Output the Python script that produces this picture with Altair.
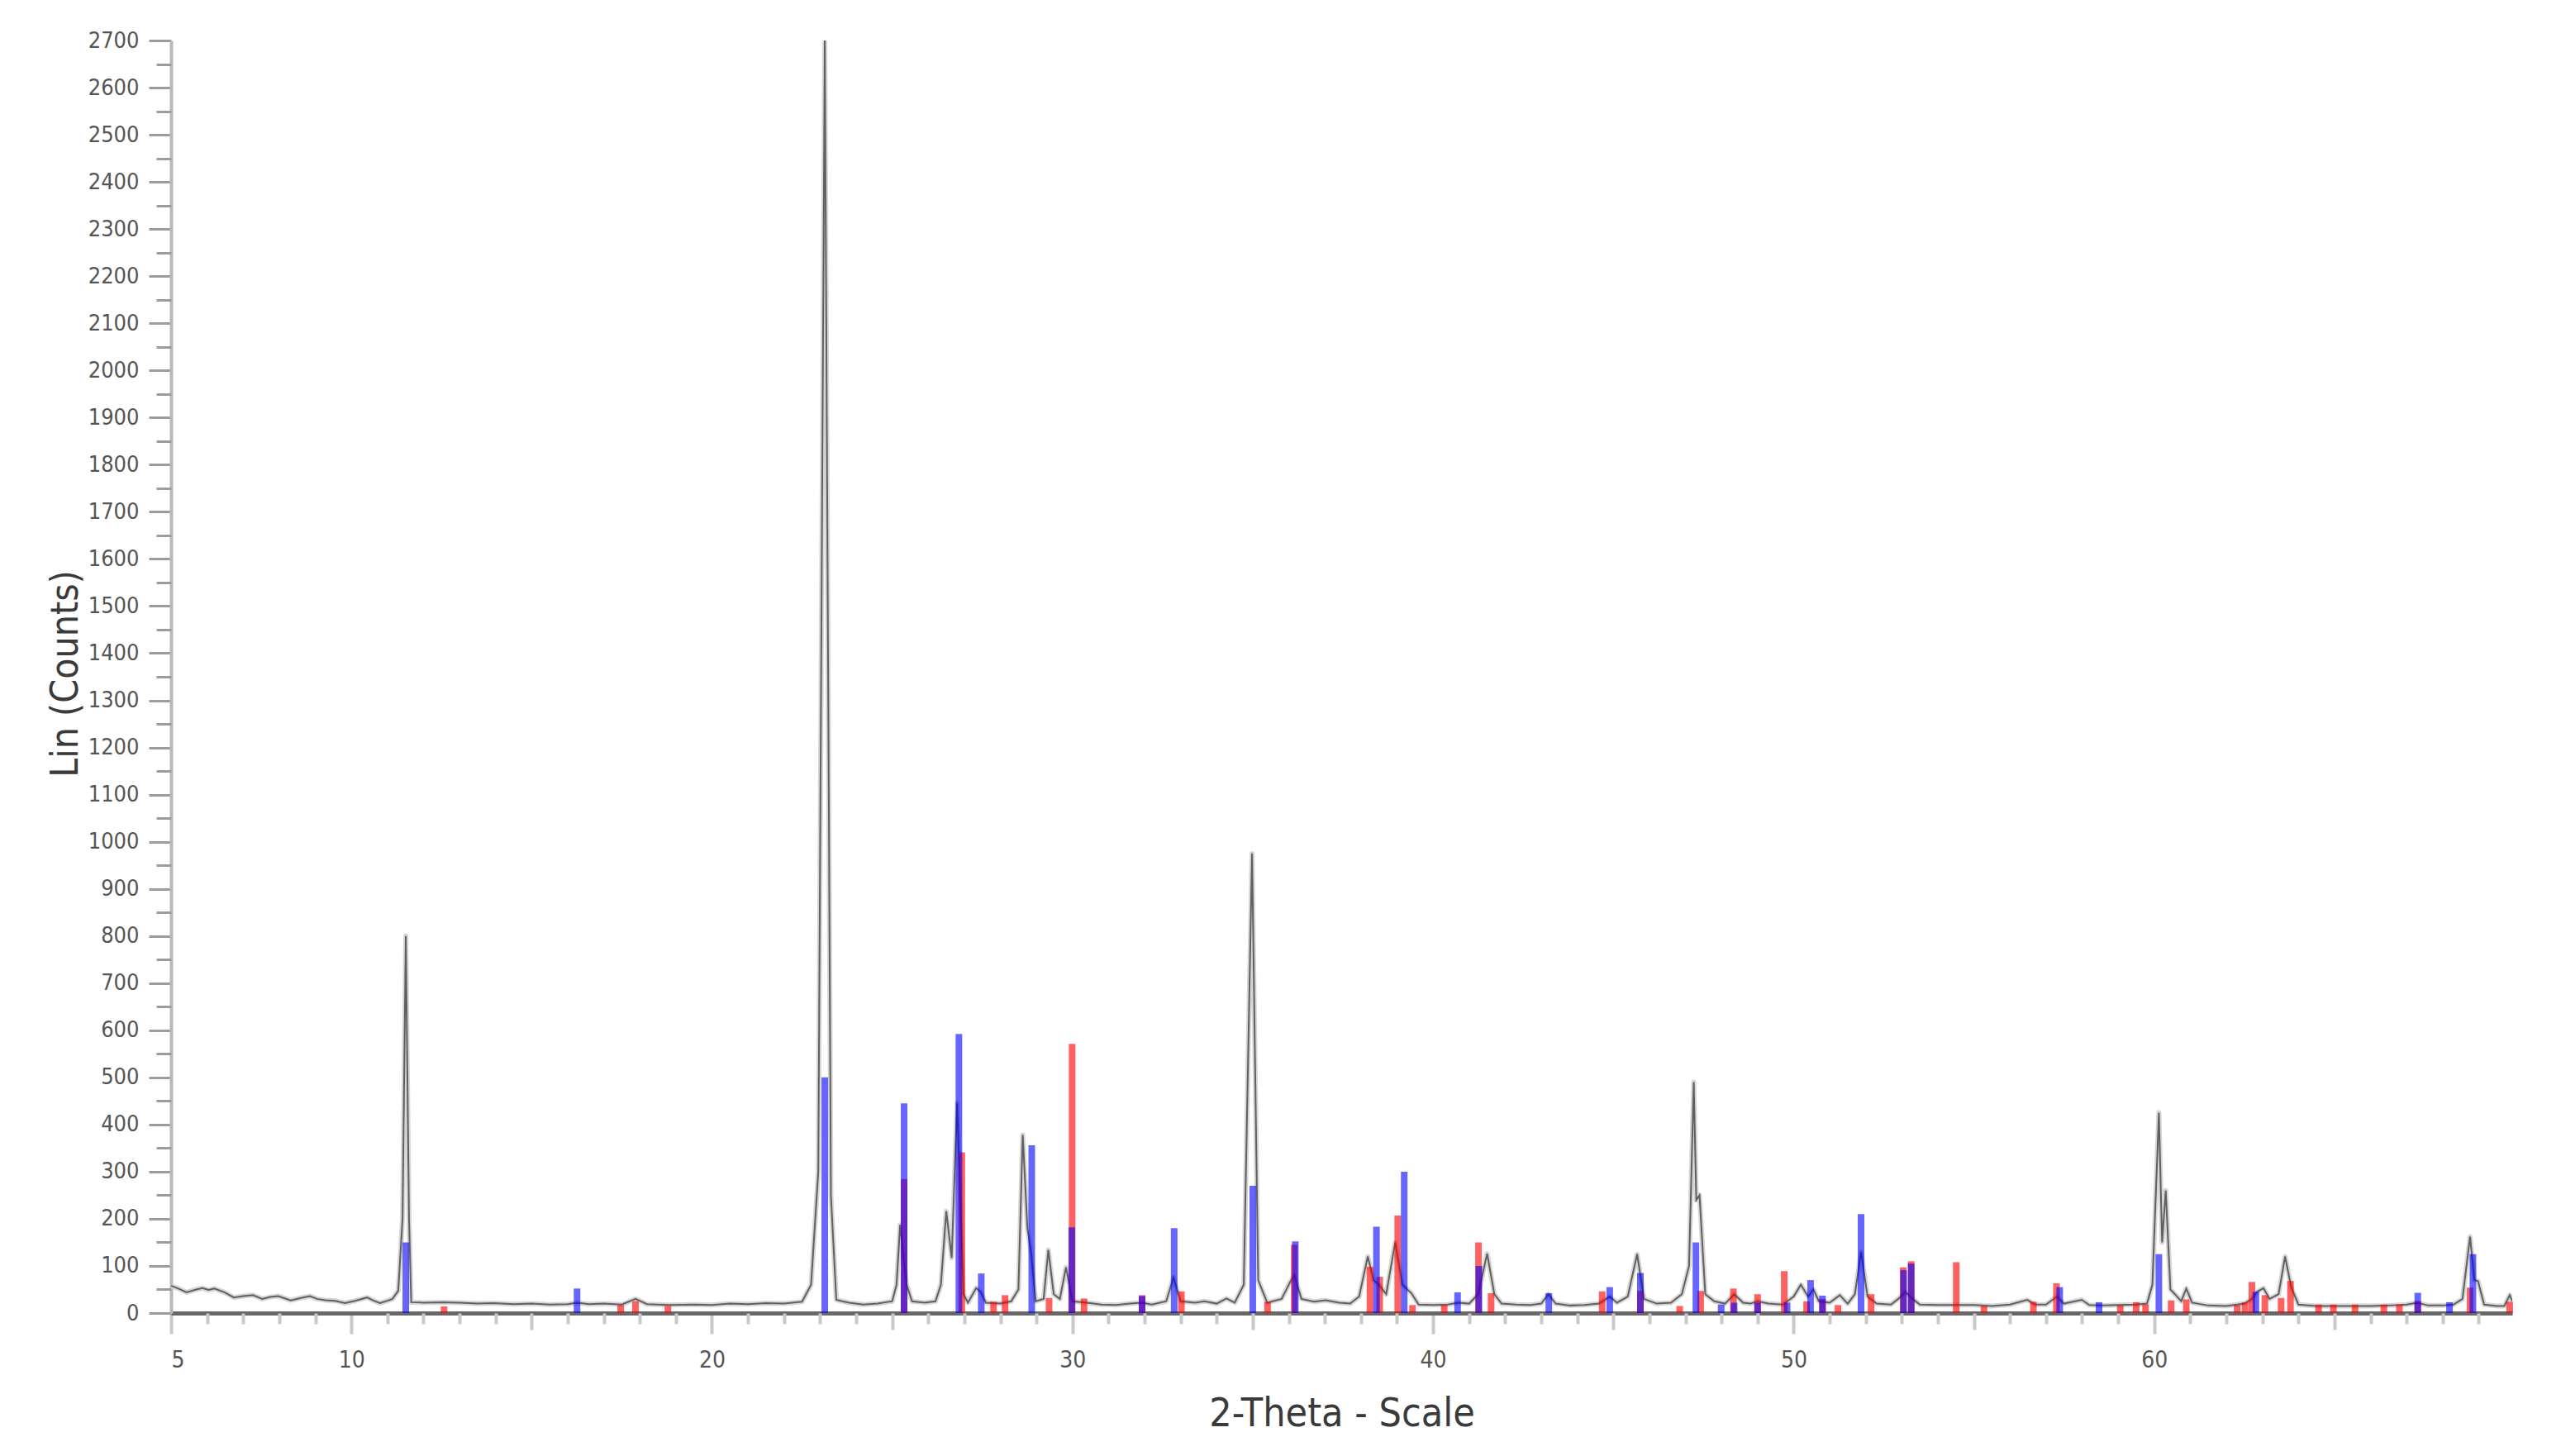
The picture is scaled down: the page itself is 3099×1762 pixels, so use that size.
import altair as alt
import pandas as pd

meas_t = [5.0, 5.2, 5.43, 5.7, 5.87, 6.04, 6.2, 6.48, 6.74, 7.0, 7.27, 7.53, 7.75, 7.97, 8.32, 8.6, 8.85, 9.05, 9.29, 9.55,
          9.82, 10.1, 10.44, 10.6, 10.79, 11.0, 11.14, 11.3, 11.42, 11.51, 11.6, 11.66, 12.0, 12.54, 13.0, 13.5, 13.95, 14.5,
          15.0, 15.5, 16.0, 16.26, 16.6, 17.0, 17.5, 17.88, 18.2, 18.8, 19.5, 20.0, 20.5, 21.0, 21.5, 22.0, 22.5, 22.75,
          22.95, 23.13, 23.3, 23.45, 23.8, 24.2, 24.6, 25.0, 25.12, 25.22, 25.4, 25.55, 25.9, 26.2, 26.35, 26.5, 26.65,
          26.8, 26.98, 27.1, 27.33, 27.45, 27.6, 28.0, 28.3, 28.5, 28.62, 28.75, 28.85, 28.98, 29.2, 29.33, 29.48, 29.65,
          29.82, 30.0, 30.4, 30.8, 31.2, 31.6, 31.93, 32.2, 32.6, 32.8, 33.0, 33.4, 33.66, 34.0, 34.27, 34.5, 34.75, 34.98,
          35.15, 35.4, 35.8, 36.03, 36.15, 36.35, 36.7, 37.02, 37.4, 37.7, 37.95, 38.19, 38.35, 38.5, 38.7, 38.95, 39.15,
          39.4, 39.6, 40.0, 40.4, 40.7, 41.0, 41.25, 41.5, 41.7, 41.9, 42.3, 42.7, 43.0, 43.2, 43.4, 43.8, 44.2, 44.6, 44.9,
          45.1, 45.4, 45.66, 45.85, 46.2, 46.6, 46.9, 47.1, 47.23, 47.3, 47.39, 47.55, 47.8, 48.1, 48.35, 48.6, 48.8, 49.0,
          49.3, 49.7, 50.0, 50.2, 50.4, 50.55, 50.7, 51.0, 51.28, 51.5, 51.7, 51.87, 52.05, 52.3, 52.7, 52.9, 53.1, 53.3,
          53.5, 54.0, 54.5, 55.0, 55.5, 56.0, 56.48, 56.7, 57.0, 57.3, 57.5, 57.99, 58.2, 58.6, 59.0, 59.5, 59.8, 59.95,
          60.13, 60.22, 60.32, 60.45, 60.6, 60.75, 60.89, 61.05, 61.5, 62.0, 62.5, 62.71, 62.85, 63.03, 63.2, 63.45, 63.63,
          63.8, 64.0, 64.5, 65.0, 65.5, 66.0, 66.5, 67.0, 67.3, 67.6, 68.0, 68.3, 68.55, 68.76, 68.88, 68.98, 69.15, 69.5,
          69.71, 69.86, 69.93]
meas_c = [58, 52, 44, 50, 53, 49, 52, 44, 33, 36, 38, 30, 34, 36, 27, 32, 36, 30, 27, 26,
          21, 26, 33, 27, 21, 26, 30, 47, 200, 800, 200, 23, 22, 23, 22, 20, 21, 19,
          20, 18, 19, 22, 19, 20, 18, 30, 19, 17, 18, 17, 20, 19, 21, 20, 24, 60,
          300, 2700, 250, 28, 22, 18, 20, 25, 60, 187, 60, 25, 22, 25, 60, 216, 117,
          446, 40, 22, 53, 45, 22, 20, 25, 50, 378, 180, 129, 25, 30, 134, 40, 30,
          97, 25, 22, 18, 17, 20, 22, 18, 25, 75, 25, 22, 25, 20, 31, 22, 60, 975,
          70, 22, 30, 65, 80, 30, 24, 27, 22, 20, 35, 120, 70, 60, 40, 150, 60,
          42, 18, 17, 18, 22, 20, 40, 126, 40, 20, 18, 17, 20, 40, 20, 16, 17, 20, 35,
          22, 35, 125, 30, 20, 22, 40, 100, 490, 240, 250, 40, 25, 20, 40, 22, 20, 25,
          20, 18, 35, 60, 35, 50, 25, 22, 38, 20, 40, 130, 35, 20, 18, 30, 45, 30,
          18, 17, 17, 17, 15, 18, 28, 18, 18, 35, 20, 28, 17, 16, 17, 18, 20, 60,
          425, 150, 260, 50, 38, 25, 52, 22, 16, 15, 20, 30, 45, 53, 30, 40, 120,
          55, 18, 15, 15, 15, 15, 16, 18, 22, 16, 16, 18, 30, 162, 70, 68, 18, 15,
          15, 38, 25]

# Reference pattern 1 (blue sticks)
blue_t = [11.51, 16.26, 23.13, 25.33, 26.85, 27.47, 28.87, 29.98, 31.93, 32.82, 35.0, 36.18, 38.43, 39.2, 40.68,
          41.27, 43.21, 44.9, 45.75, 47.29, 47.99, 48.35, 49.0, 49.82, 50.47, 50.8, 51.87, 53.05, 53.26, 57.38,
          58.47, 60.13, 62.82, 67.31, 68.19, 68.84]
blue_v = [150, 52, 500, 445, 592, 84, 356, 182, 36, 180, 270, 152, 183, 300, 44,
          100, 42, 55, 85, 150, 18, 22, 22, 22, 70, 37, 210, 91, 105, 55,
          23, 125, 45, 43, 23, 125]

# Reference pattern 2 (red sticks)
red_t = [12.57, 17.47, 17.88, 18.78, 25.33, 26.93, 27.81, 28.13, 29.35, 29.99, 30.32, 31.93, 33.02, 35.41, 36.15,
         38.25, 38.52, 39.02, 39.43, 40.31, 41.26, 41.61, 44.69, 45.75, 46.84, 47.42, 48.33, 49.0, 49.74, 50.36,
         50.8, 51.23, 52.15, 53.04, 53.26, 54.51, 55.28, 56.65, 57.29, 59.06, 59.5, 59.76, 60.47, 60.89, 62.3,
         62.52, 62.71, 63.07, 63.52, 63.78, 64.56, 64.97, 65.57, 66.37, 66.8, 67.31, 68.76, 69.86]
red_v = [14, 17, 25, 15, 284, 341, 24, 38, 32, 571, 31, 38, 46, 24, 145,
         98, 77, 207, 17, 17, 150, 42, 46, 47, 15, 47, 52, 40, 89, 25,
         30, 17, 40, 97, 110, 108, 15, 24, 63, 16, 23, 18, 27, 29, 17,
         23, 66, 38, 32, 68, 18, 18, 18, 18, 18, 25, 54, 24]

# Axis tick values
x_label_vals = [5, 10, 20, 30, 40, 50, 60]
x_mid_vals = [15, 25, 35, 45, 55, 65]
x_minor_vals = [v for v in range(6, 70) if v % 5 != 0]
y_label_vals = list(range(0, 2701, 100))
y_minor_vals = list(range(50, 2700, 100))

meas = pd.DataFrame({"t": meas_t, "c": meas_c})
blue = pd.DataFrame({"t": blue_t, "v": blue_v})
red = pd.DataFrame({"t": red_t, "v": red_v})

FONT = "Liberation Sans Narrow, Arial Narrow, DejaVu Sans Condensed, Liberation Sans, sans-serif"
xscale = alt.Scale(domain=[5, 69.93], nice=False, zero=False)
yscale = alt.Scale(domain=[0, 2700], nice=False, zero=True)

halo = alt.Chart(meas).mark_line(color="#d6d6d6", strokeWidth=6, clip=True, strokeJoin="round").encode(
    x=alt.X("t:Q", scale=xscale, axis=None),
    y=alt.Y("c:Q", scale=yscale, axis=None),
)

line = alt.Chart(meas).mark_line(color="#606060", strokeWidth=2, clip=True).encode(
    x=alt.X("t:Q", scale=xscale, axis=alt.Axis(
        orient="bottom", values=x_label_vals, format="d", tickSize=25, tickWidth=4, tickColor="#c8c8c8",
        domainColor="#686868", domainWidth=5, labelFont=FONT, labelFontSize=28, labelColor="#555555",
        labelPadding=18, grid=False, title="2-Theta - Scale", titleFont=FONT, titleFontSize=48,
        titleFontWeight="normal", titleColor="#3a3a3a", titleY=122, titleBaseline="middle")),
    y=alt.Y("c:Q", scale=yscale, axis=alt.Axis(
        orient="left", values=y_label_vals, format="d", tickSize=27, tickWidth=3, tickColor="#9c9c9c",
        domainColor="#b8b8b8", domainWidth=4, labelFont=FONT, labelFontSize=27, labelColor="#555555",
        labelPadding=12, grid=False, title="Lin (Counts)", titleFont=FONT, titleFontSize=46,
        titleFontWeight="normal", titleColor="#3a3a3a", titleX=-128, titleY=766, titleAngle=270,
        titleAlign="center", titleBaseline="middle")),
)

red_layer = alt.Chart(red).mark_rule(color="#ff0000", opacity=0.62, strokeWidth=8, strokeCap="butt").encode(
    x=alt.X("t:Q", scale=xscale, axis=alt.Axis(
        orient="bottom", values=x_mid_vals, tickSize=20, tickWidth=4, tickColor="#c8c8c8",
        labels=False, domain=False, grid=False, title=None)),
    y=alt.Y("v:Q", scale=yscale, axis=alt.Axis(
        orient="left", values=y_minor_vals, tickSize=18, tickWidth=3, tickColor="#9c9c9c",
        labels=False, domain=False, grid=False, title=None)),
    y2=alt.datum(0),
)

blue_layer = alt.Chart(blue).mark_rule(color="#0000ff", opacity=0.6, strokeWidth=8, strokeCap="butt").encode(
    x=alt.X("t:Q", scale=xscale, axis=alt.Axis(
        orient="bottom", values=x_minor_vals, tickSize=13, tickWidth=4, tickColor="#c8c8c8",
        labels=False, domain=False, grid=False, title=None)),
    y=alt.Y("v:Q", scale=yscale, axis=None),
    y2=alt.datum(0),
)

chart = alt.layer(halo, line, red_layer, blue_layer).resolve_axis(x="independent", y="independent").properties(
    width=2833, height=1540,
    autosize=alt.AutoSizeParams(type="none"),
    padding={"left": 199, "top": 41, "right": 40, "bottom": 160},
    background="white",
).configure_view(stroke=None)

chart.save("out.html", embed_options={"renderer": "svg", "actions": False})
